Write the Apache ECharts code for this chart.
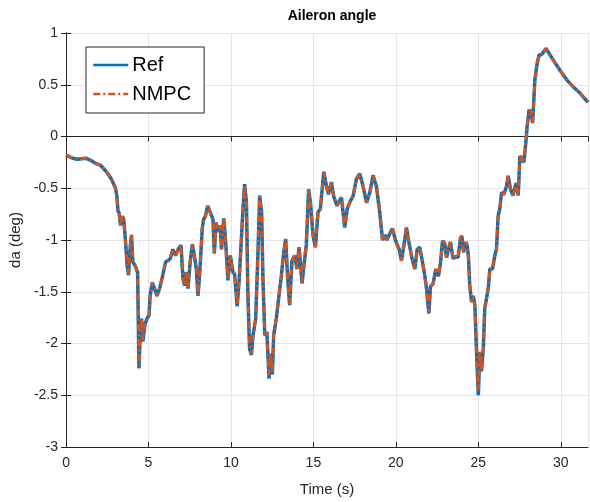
<!DOCTYPE html>
<html>
<head>
<meta charset="utf-8">
<script src="https://cdn.jsdelivr.net/npm/echarts@6/dist/echarts.min.js"></script>
<style>
html,body{margin:0;padding:0;background:#fff;}
#chart{width:590px;height:502px;}
</style>
</head>
<body>
<div id="chart"></div>
<script>
// Time (s)
var timeS = [0,0.4,0.7,1.2,1.5,1.8,2.1,2.45,2.75,3.0,3.08,3.15,3.22,3.31,3.41,3.5,3.61,3.71,3.79,3.9,3.97,4.05,4.22,4.34,4.38,4.42,4.5,4.58,4.66,4.78,4.9,5.03,5.1,5.23,5.37,5.51,5.67,5.87,6.04,6.18,6.32,6.48,6.64,6.8,6.97,7.09,7.19,7.3,7.39,7.53,7.66,7.78,7.9,8.0,8.1,8.26,8.34,8.45,8.59,8.74,8.91,8.99,9.1,9.22,9.34,9.43,9.56,9.68,9.82,9.96,10.12,10.22,10.38,10.5,10.73,10.83,10.94,11.03,11.13,11.24,11.34,11.5,11.64,11.74,11.86,11.94,12.05,12.18,12.31,12.4,12.51,12.59,12.75,12.91,13.06,13.2,13.32,13.44,13.56,13.7,13.87,14.0,14.13,14.31,14.45,14.57,14.71,14.82,14.98,15.12,15.28,15.42,15.63,15.79,15.91,16.09,16.23,16.43,16.58,16.7,16.9,17.05,17.25,17.4,17.61,17.81,18.01,18.22,18.42,18.62,18.82,19.02,19.19,19.34,19.45,19.63,19.79,19.99,20.2,20.34,20.5,20.64,20.8,20.97,21.15,21.29,21.45,21.6,21.75,21.86,22.0,22.1,22.26,22.42,22.58,22.7,22.83,22.96,23.07,23.17,23.31,23.47,23.63,23.77,23.92,24.0,24.1,24.24,24.32,24.4,24.48,24.59,24.7,24.79,24.89,25.0,25.09,25.19,25.3,25.39,25.49,25.6,25.7,25.86,26.0,26.1,26.2,26.3,26.41,26.55,26.71,26.81,26.95,27.11,27.2,27.3,27.42,27.52,27.62,27.76,27.88,27.96,28.08,28.2,28.29,28.43,28.57,28.69,28.83,28.97,29.1,29.26,29.54,29.95,30.35,30.75,31.16,31.65];
// Reference aileron angle (deg)
var refDeg = [-0.18,-0.21,-0.22,-0.21,-0.23,-0.26,-0.28,-0.34,-0.41,-0.50,-0.57,-0.72,-0.74,-0.86,-0.77,-0.80,-1.02,-1.25,-1.34,-1.05,-0.95,-1.21,-1.26,-1.31,-1.76,-2.24,-1.92,-1.76,-1.98,-1.82,-1.76,-1.73,-1.54,-1.41,-1.47,-1.54,-1.47,-1.34,-1.21,-1.20,-1.18,-1.09,-1.15,-1.09,-1.05,-1.37,-1.44,-1.31,-1.47,-1.21,-1.04,-1.15,-1.28,-1.54,-1.34,-0.89,-0.80,-0.77,-0.67,-0.73,-0.80,-1.13,-0.83,-0.92,-0.86,-1.09,-0.79,-1.02,-1.39,-1.15,-1.31,-1.33,-1.64,-1.38,-0.70,-0.46,-0.64,-1.54,-2.05,-2.11,-1.92,-1.76,-1.12,-0.57,-0.73,-1.375,-1.92,-1.89,-2.34,-2.10,-2.30,-1.92,-1.76,-1.54,-1.34,-1.12,-0.99,-1.375,-1.63,-1.20,-1.15,-1.28,-1.07,-1.42,-1.21,-1.05,-0.51,-0.64,-0.96,-1.07,-0.73,-0.70,-0.34,-0.48,-0.56,-0.44,-0.58,-0.67,-0.62,-0.59,-0.88,-0.70,-0.62,-0.58,-0.41,-0.36,-0.48,-0.64,-0.54,-0.375,-0.48,-0.73,-1.0,-0.95,-1.0,-0.94,-0.89,-1.01,-1.09,-1.2,-1.04,-0.88,-1.03,-1.17,-1.28,-1.09,-1.07,-1.2,-1.34,-1.47,-1.71,-1.45,-1.42,-1.28,-1.35,-1.23,-1.01,-1.03,-1.17,-1.10,-1.02,-1.18,-1.16,-1.17,-0.98,-0.96,-1.12,-1.02,-1.05,-1.16,-1.44,-1.60,-1.54,-1.63,-2.08,-2.50,-2.08,-2.27,-2.05,-1.66,-1.65,-1.47,-1.28,-1.28,-1.15,-1.09,-0.77,-0.70,-0.54,-0.56,-0.48,-0.38,-0.51,-0.57,-0.50,-0.45,-0.57,-0.19,-0.21,-0.25,-0.06,0.10,0.26,0.23,0.13,0.55,0.71,0.79,0.79,0.82,0.85,0.81,0.74,0.64,0.55,0.48,0.42,0.33];
// NMPC aileron angle (deg)
var nmpcDeg = [-0.18,-0.21,-0.22,-0.21,-0.23,-0.26,-0.28,-0.34,-0.41,-0.50,-0.57,-0.72,-0.74,-0.86,-0.77,-0.80,-1.02,-1.25,-1.33,-1.05,-0.95,-1.21,-1.26,-1.31,-1.76,-2.21,-1.92,-1.76,-1.97,-1.82,-1.76,-1.73,-1.54,-1.41,-1.47,-1.54,-1.47,-1.34,-1.21,-1.20,-1.18,-1.09,-1.15,-1.09,-1.05,-1.37,-1.44,-1.31,-1.46,-1.21,-1.04,-1.15,-1.28,-1.53,-1.34,-0.89,-0.80,-0.77,-0.67,-0.73,-0.80,-1.13,-0.83,-0.92,-0.86,-1.09,-0.79,-1.02,-1.38,-1.15,-1.31,-1.33,-1.63,-1.38,-0.70,-0.47,-0.64,-1.54,-2.04,-2.10,-1.92,-1.76,-1.12,-0.58,-0.73,-1.375,-1.92,-1.89,-2.31,-2.10,-2.28,-1.92,-1.76,-1.54,-1.34,-1.12,-0.99,-1.375,-1.62,-1.20,-1.15,-1.28,-1.07,-1.41,-1.21,-1.05,-0.52,-0.64,-0.96,-1.07,-0.73,-0.70,-0.35,-0.48,-0.56,-0.44,-0.58,-0.67,-0.62,-0.59,-0.87,-0.70,-0.62,-0.58,-0.41,-0.37,-0.48,-0.64,-0.54,-0.38,-0.48,-0.73,-1.0,-0.95,-1.0,-0.94,-0.89,-1.01,-1.09,-1.2,-1.04,-0.88,-1.03,-1.17,-1.28,-1.09,-1.07,-1.2,-1.34,-1.47,-1.70,-1.45,-1.42,-1.28,-1.35,-1.23,-1.01,-1.03,-1.17,-1.10,-1.02,-1.18,-1.16,-1.17,-0.98,-0.96,-1.12,-1.02,-1.05,-1.16,-1.44,-1.60,-1.54,-1.63,-2.07,-2.46,-2.08,-2.26,-2.05,-1.66,-1.65,-1.47,-1.28,-1.28,-1.15,-1.09,-0.77,-0.70,-0.54,-0.56,-0.48,-0.38,-0.51,-0.57,-0.50,-0.45,-0.56,-0.19,-0.21,-0.25,-0.06,0.10,0.26,0.23,0.13,0.55,0.71,0.79,0.79,0.82,0.85,0.81,0.74,0.64,0.55,0.48,0.42,0.33];

var xTicks = {min: 0, max: 31.65, interval: 5};
var yTicks = {min: -3, max: 1, interval: 0.5};

function pairs(xs, ys){ return xs.map(function(x,i){ return [x, ys[i]]; }); }

var FONT = 'Liberation Sans, Arial, Helvetica, sans-serif';
var AX = '#262626';
var chart = echarts.init(document.getElementById('chart'), null, {renderer:'canvas'});
var hiddenAxisCommon = {
  axisLine:{show:true, lineStyle:{color:AX, width:1}},
  axisTick:{show:true, inside:true, length:5, lineStyle:{color:AX}}
};
chart.setOption({
  animation:false,
  backgroundColor:'#fff',
  title:{text:'Aileron angle', left:327, top:4, textAlign:'center',
    textStyle:{fontFamily:FONT, fontSize:14, fontWeight:'bold', color:'#000'}},
  grid:{left:66, right:2, top:33, bottom:53, containLabel:false},
  legend:{
    orient:'vertical', left:86, top:47,
    padding:[8,13,9,6], itemGap:9,
    itemWidth:35, itemHeight:14,
    backgroundColor:'#fff', borderColor:AX, borderWidth:1, borderRadius:0,
    itemStyle:{opacity:0},
    lineStyle:{width:2.5},
    textStyle:{fontFamily:FONT, fontSize:20, color:'#000', padding:[0,0,0,-1]},
    data:['Ref','NMPC']
  },
  xAxis:[{
    type:'value', min:xTicks.min, max:xTicks.max, interval:xTicks.interval,
    name:'Time (s)', nameLocation:'middle', nameGap:35,
    nameTextStyle:{fontFamily:FONT, fontSize:15, color:AX},
    axisLine:{show:true, onZero:false, lineStyle:{color:AX, width:1}},
    axisTick:{show:true, inside:true, length:5, lineStyle:{color:AX}},
    axisLabel:{fontFamily:FONT, fontSize:14, color:AX, margin:9, showMaxLabel:false},
    splitLine:{show:true, lineStyle:{color:'#e5e5e5', width:1}}
  },{
    type:'value', position:'top', min:xTicks.min, max:xTicks.max, interval:xTicks.interval,
    axisLine:hiddenAxisCommon.axisLine, axisTick:hiddenAxisCommon.axisTick,
    axisLabel:{show:false}, splitLine:{show:false}
  }],
  yAxis:[{
    type:'value', min:yTicks.min, max:yTicks.max, interval:yTicks.interval,
    name:'da (deg)', nameLocation:'middle', nameGap:37, nameRotate:90,
    nameTextStyle:{fontFamily:FONT, fontSize:15, color:AX},
    axisLine:{show:true, onZero:false, lineStyle:{color:AX, width:1}},
    axisTick:{show:true, inside:true, length:5, lineStyle:{color:AX}},
    axisLabel:{fontFamily:FONT, fontSize:14, color:AX, margin:8},
    splitLine:{show:true, lineStyle:{color:'#e5e5e5', width:1}}
  },{
    type:'value', position:'right', min:yTicks.min, max:yTicks.max, interval:yTicks.interval,
    axisLine:hiddenAxisCommon.axisLine, axisTick:hiddenAxisCommon.axisTick,
    axisLabel:{show:false}, splitLine:{show:false}
  }],
  series:[{
    name:'Ref', type:'line', xAxisIndex:0, yAxisIndex:0,
    data:pairs(timeS, refDeg), showSymbol:false, symbol:'none',
    lineStyle:{color:'#0072BD', width:3.5}, itemStyle:{color:'#0072BD'}, z:2
  },{
    name:'NMPC', type:'line', xAxisIndex:0, yAxisIndex:0,
    data:pairs(timeS, nmpcDeg), showSymbol:false, symbol:'none',
    lineStyle:{color:'#D95319', width:2.8, type:[7,3,2,3]}, itemStyle:{color:'#D95319'}, z:3
  }]
});
</script>
</body>
</html>
